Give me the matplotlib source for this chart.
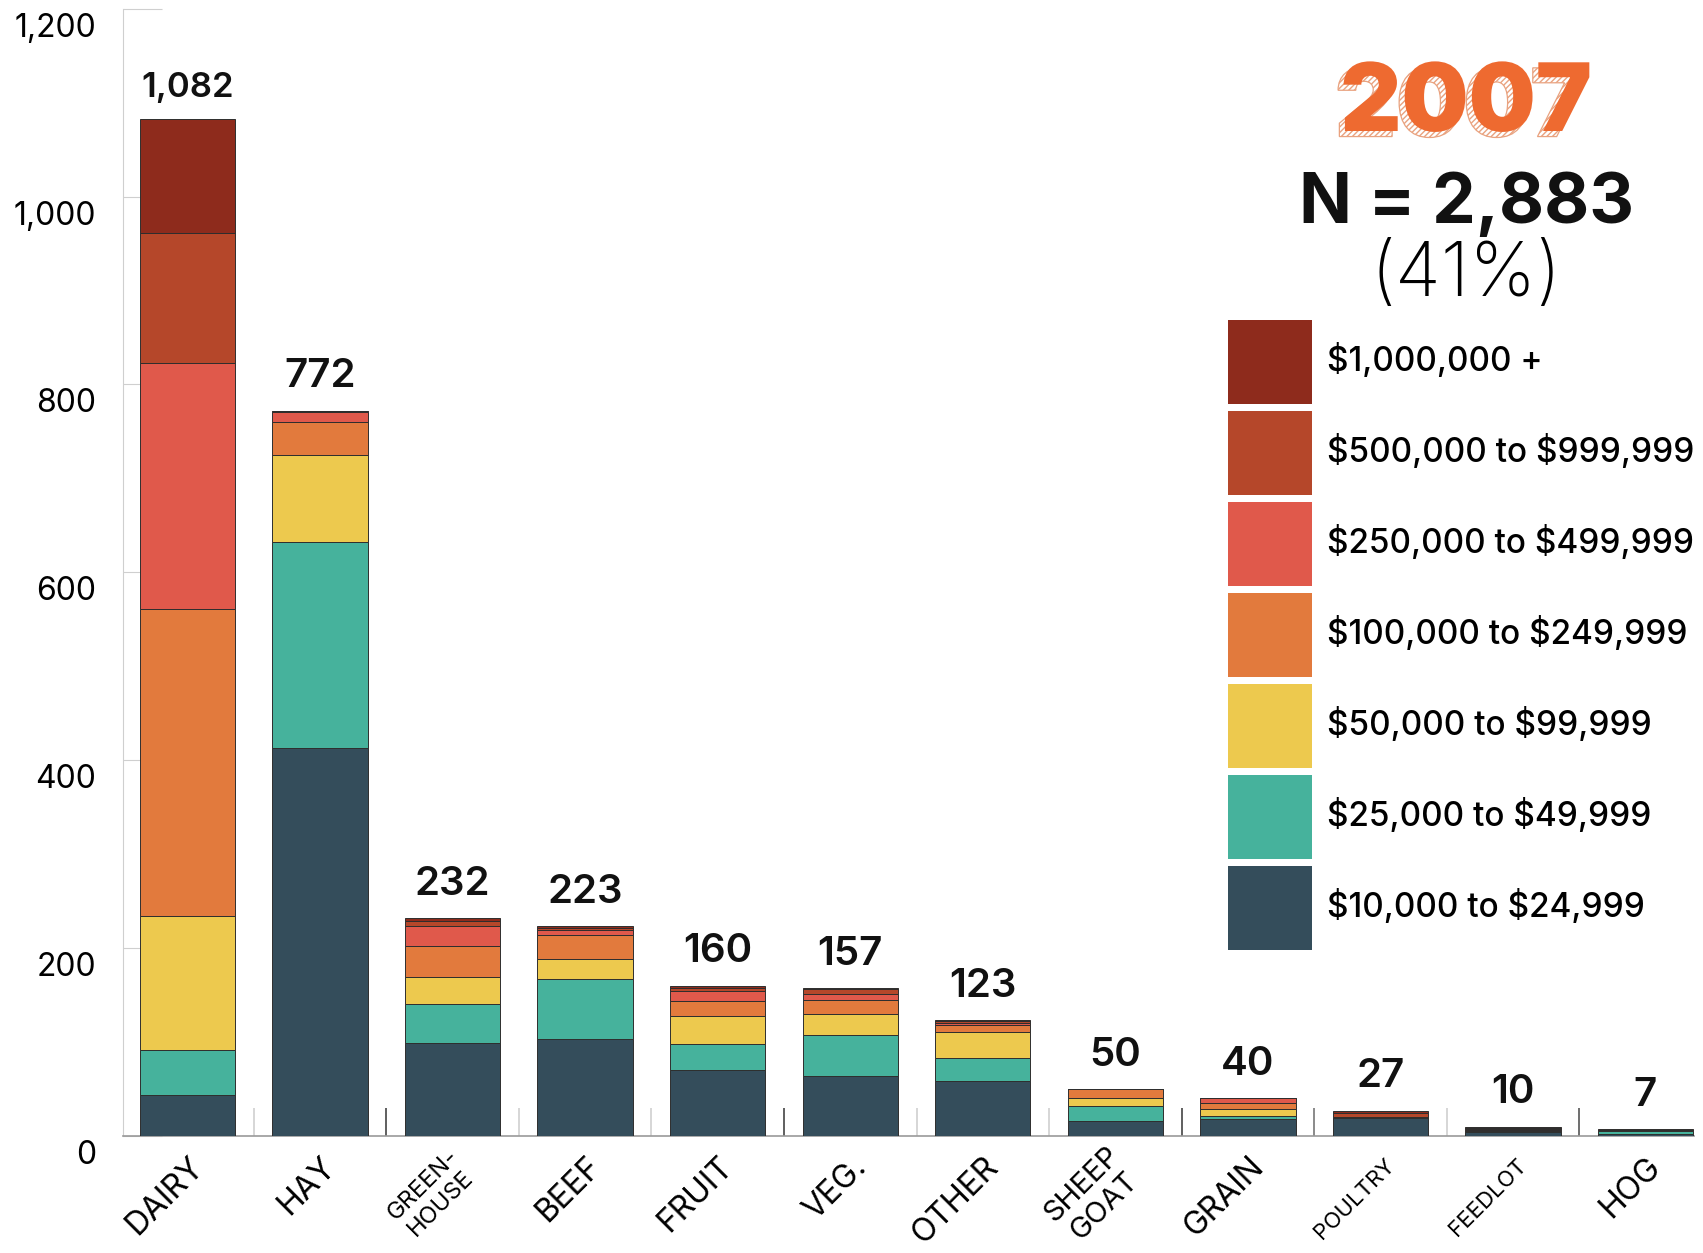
import matplotlib
matplotlib.use("Agg")
import numpy as np
import matplotlib.pyplot as plt
import matplotlib.patheffects as pe
from matplotlib.patches import Patch
from matplotlib.transforms import ScaledTranslation

plt.rcParams['font.family'] = ['Inter', 'Lato', 'DejaVu Sans']

# farm types, left to right
categories = ["DAIRY", "HAY", "GREEN-\nHOUSE", "BEEF", "FRUIT", "VEG.", "OTHER",
              "SHEEP\nGOAT", "GRAIN", "POULTRY", "FEEDLOT", "HOG"]

# sales classes, bottom of the stack first
tiers = ["$10,000 to $24,999", "$25,000 to $49,999", "$50,000 to $99,999",
         "$100,000 to $249,999", "$250,000 to $499,999", "$500,000 to $999,999",
         "$1,000,000 +"]

s10k  = [44, 413, 99, 103, 70, 64, 58, 16, 18, 19, 4, 2]
s25k  = [47, 219, 41, 64, 28, 44, 25, 16, 3, 0, 1, 3]
s50k  = [143, 93, 29, 21, 30, 22, 28, 8, 8, 0, 0, 1]
s100k = [327, 35, 33, 26, 16, 15, 7, 10, 6, 0, 1, 0]
s250k = [262, 11, 22, 5, 10, 6, 2, 0, 5, 1, 1, 0]
s500k = [138, 1, 5, 2, 4, 5, 2, 0, 0, 4, 1, 0]
s1m   = [121, 0, 3, 2, 2, 1, 1, 0, 0, 3, 2, 1]

yticks = [0, 200, 400, 600, 800, 1000, 1200]
year = "2007"
n_text = "N = 2,883"
pct_text = "(41%)"

series = [s10k, s25k, s50k, s100k, s250k, s500k, s1m]
colors = ["#344D5B", "#46B29C", "#EDC94E", "#E27A3D", "#E0594B", "#B5472A", "#8E2B1C"]
label_sizes = [23, 23, 17, 23, 23, 23, 23, 21, 23, 16, 16, 23]
sep_colors = ["#d0d0d0", "#444444", "#d0d0d0", "#d0d0d0", "#444444", "#d0d0d0",
              "#d0d0d0", "#444444", "#777777", "#d0d0d0", "#555555"]

fig = plt.figure(figsize=(17.03, 12.53), dpi=100)
ax = fig.add_axes([0.072, 0.0934, 0.923, 0.8997])

x = np.arange(len(categories))
bottom = np.zeros(len(categories))
for vals, col in zip(series, colors):
    ax.bar(x, vals, bottom=bottom, width=0.72, color=col,
           edgecolor="#2e2e2e", linewidth=0.7, zorder=3)
    bottom += np.array(vals)

totals = bottom
for xi, t in zip(x, totals):
    fs = 25 if t >= 1000 else 29
    ax.annotate(f"{int(t):,}", (xi, t), xytext=(0, 11), textcoords="offset points",
                ha="center", va="bottom", fontsize=fs, fontweight="semibold",
                color="#111111")

# little separators between bars
ax.vlines(x[:-1] + 0.5, 0, 30, colors=sep_colors, linewidth=1.2, zorder=2)

ax.set_xlim(-0.49, 11.37)
ax.set_ylim(0, 1200)
for s in ["top", "right"]:
    ax.spines[s].set_visible(False)
ax.spines["left"].set_color("#cfcfcf")
ax.spines["bottom"].set_color("#9a9a9a")
ax.spines["bottom"].set_linewidth(1.2)

ax.set_yticks(yticks, [f"{v:,}" for v in yticks])
ax.tick_params(axis="y", direction="in", length=28, color="#cfcfcf",
               labelsize=23, pad=19)
for lbl in ax.get_yticklabels():
    lbl.set_transform(lbl.get_transform() + ScaledTranslation(0, -0.16, fig.dpi_scale_trans))

ax.set_xticks(x, categories)
ax.tick_params(axis="x", length=0, pad=19)
for lbl, fs in zip(ax.get_xticklabels(), label_sizes):
    lbl.set_fontsize(fs)
    lbl.set_rotation(45)
    lbl.set_ha("right")
    lbl.set_va("center")
    lbl.set_rotation_mode("anchor")
    lbl.set_multialignment("center")
    lbl.set_transform(lbl.get_transform() + ScaledTranslation(0.11, 0, fig.dpi_scale_trans))

handles = [Patch(facecolor=c, edgecolor="none") for c in colors[::-1]]
labels = [t.replace("$", r"\$") for t in tiers[::-1]]
ax.legend(handles, labels, loc="upper left", bbox_to_anchor=(0.7211, 0.7446),
          bbox_transform=fig.transFigure, frameon=False,
          prop={"size": 24, "weight": "medium"},
          handlelength=2.52, handleheight=3.50, labelspacing=0.21,
          handletextpad=0.45, borderpad=0, borderaxespad=0)

fig.text(0.861, 0.915, year, ha="center", va="center", fontsize=68,
         fontweight="black", color="#EE6A30",
         path_effects=[pe.PathPatchEffect(offset=(-4, -4), hatch="//////",
                                          facecolor="white", edgecolor="#E9A27F",
                                          linewidth=0.9),
                       pe.Normal()])
fig.text(0.861, 0.837, n_text, ha="center", va="center", fontsize=50,
         fontweight="bold", color="#111111")
fig.text(0.861, 0.78, pct_text, ha="center", va="center", fontsize=54,
         fontweight="light", color="#000000")

fig.savefig("out.png", dpi=100)
